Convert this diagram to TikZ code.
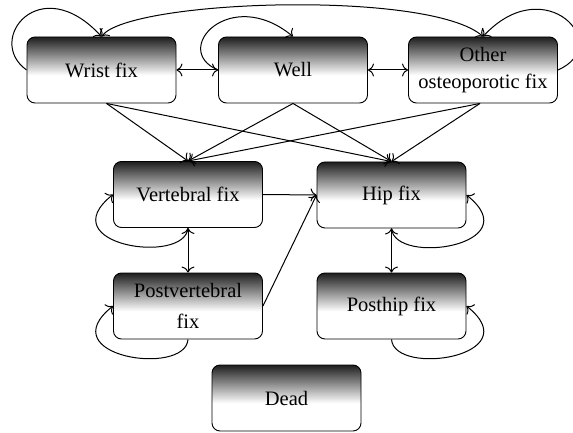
\documentclass[tikz,border=0pt]{standalone}
\usepackage{fontspec}
\setmainfont{Liberation Serif}
\usetikzlibrary{arrows.meta}
\pgfdeclareverticalshading{boxshade}{100bp}{color(0bp)=(white); color(46bp)=(white); color(75bp)=(black!88); color(100bp)=(black!88)}
\tikzset{
  stbox/.style={draw, line width=0.9pt, rounded corners=8pt, minimum width=149pt, minimum height=66pt, inner sep=0pt, shading=boxshade, align=center, font=\fontsize{20.5}{27}\selectfont},
  conn/.style={line width=1pt, -{To[length=6pt,width=13pt]}},
  bconn/.style={line width=1pt, {To[length=6pt,width=13pt]}-{To[length=6pt,width=13pt]}},
}
\begin{document}
\begin{tikzpicture}[x=1pt,y=-1pt]
\useasboundingbox (0,0) rectangle (573,433);
\node[stbox] (wrist) at (101.5,70) {Wrist fix};
\node[stbox] (well) at (293,70) {Well};
\node[stbox] (other) at (483,70) {Other\\osteoporotic fix};
\node[stbox] (vert) at (188,194.5) {Vertebral fix};
\node[stbox] (hip) at (391.5,195) {Hip fix};
\node[stbox] (postv) at (188,306) {Postvertebral\\[4pt]fix};
\node[stbox] (posth) at (391.5,306) {Posthip fix};
\node[stbox] (dead) at (286.5,398) {Dead};

\draw[bconn] (wrist.east) -- (well.west);
\draw[bconn] (well.east) -- (other.west);
\draw[bconn] (wrist.north) .. controls +(28,-37) and +(-53,-47) .. (other.north);
\draw[conn] (wrist.west) .. controls +(-42,-30) and +(-61.5,-67) .. (wrist.north);
\draw[conn] (well.west) .. controls +(-48,-20) and +(-63,-52) .. (well.north);
\draw[conn] (other.east) .. controls +(57,-25) and +(62,-67) .. (other.north);

\draw[conn] ([xshift=5pt]wrist.south) -- (vert.north);
\draw[conn] ([xshift=5pt]wrist.south) -- (hip.north);
\draw[conn] (well.south) -- (vert.north);
\draw[conn] (well.south) -- (hip.north);
\draw[conn] ([xshift=-3pt]other.south) -- (vert.north);
\draw[conn] ([xshift=-3pt]other.south) -- (hip.north);

\draw[conn] (vert.east) -- (hip.west);
\draw[conn] (postv.east) -- (hip.west);
\draw[bconn] (vert.south) -- (postv.north);
\draw[bconn] (hip.south) -- (posth.north);

\draw[conn] (vert.south) .. controls +(-3,37.5) and +(-63.5,50.5) .. (vert.west);
\draw[conn] (postv.south) .. controls +(-3,37.5) and +(-63.5,50.5) .. (postv.west);
\draw[conn] (hip.south) .. controls +(3,37.5) and +(63.5,50.5) .. (hip.east);
\draw[conn] (posth.south) .. controls +(3,37.5) and +(63.5,50.5) .. (posth.east);
\end{tikzpicture}
\end{document}
